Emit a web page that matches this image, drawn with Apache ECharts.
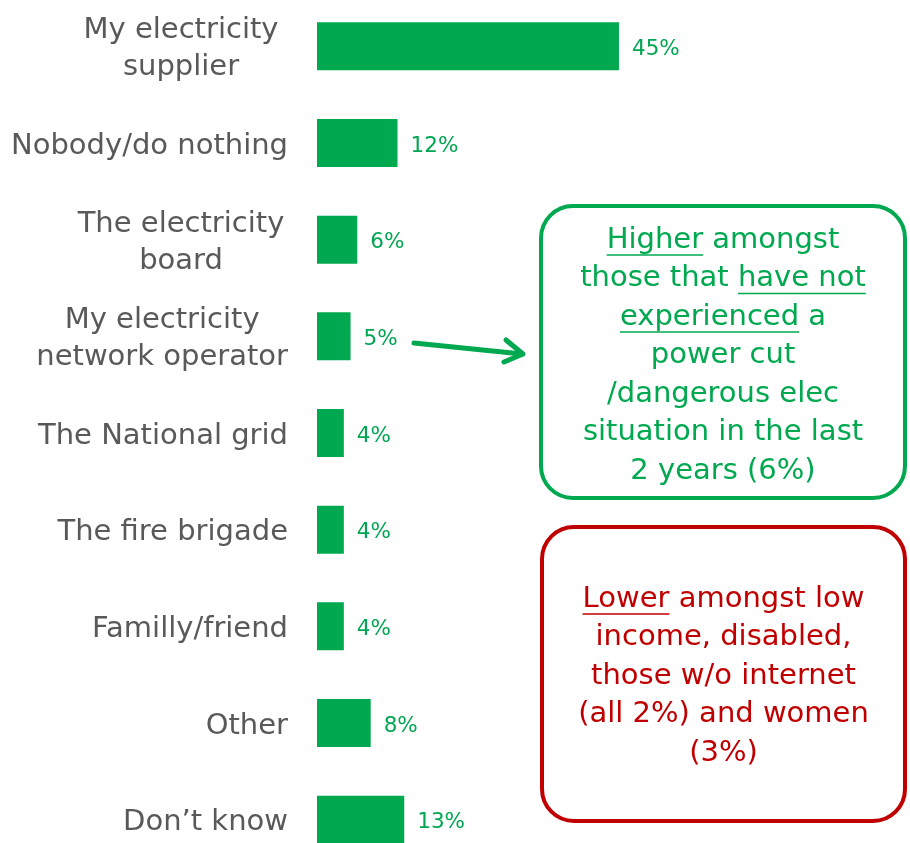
<!DOCTYPE html>
<html>
<head>
<meta charset="utf-8">
<script src="https://cdn.jsdelivr.net/npm/echarts@6/dist/echarts.min.js"></script>
<style>
  html, body { margin: 0; padding: 0; background: #fff; }
  #chart { width: 910px; height: 843px; }
</style>
</head>
<body>
<div id="chart"></div>
<script>
// 数据
var categories = [
  'My electricity\nsupplier',
  'Nobody/do nothing',
  'The electricity\nboard',
  'My electricity\nnetwork operator',
  'The National grid',
  'The fire brigade',
  'Familly/friend',
  'Other',
  'Don\u2019t know'
]
var values = [45, 12, 6, 5, 4, 4, 4, 8, 13]

var FONT = '"DejaVu Sans", Tahoma, sans-serif'
var GREEN = '#00A84F'
var GREEN_TXT = '#00A651'
var RED = '#C00000'

var greenLines = [
  'Higher amongst',
  'those that have not',
  'experienced a',
  'power cut',
  '/dangerous elec',
  'situation in the last',
  '2 years (6%)'
]
// [行号, 前缀, 下划线文字]
var greenUnderline = [[0, '', 'Higher'], [1, 'those that ', 'have not'], [2, '', 'experienced']]
var redLines = [
  'Lower amongst low',
  'income, disabled,',
  'those w/o internet',
  '(all 2%) and women',
  '(3%)'
]
var redUnderline = [[0, '', 'Lower']]

var myChart = echarts.init(document.getElementById('chart'))

var ctx = document.createElement('canvas').getContext('2d')
function textW (s, size) {
  ctx.font = size + 'px ' + FONT
  return ctx.measureText(s).width
}

function noteBox (x, y, w, h, color, lines, lineTop, lineH, unders) {
  var size = 29
  var cx = x + w / 2
  var els = [{
    type: 'rect',
    shape: { x: x, y: y, width: w, height: h, r: 32 },
    style: { fill: '#fff', stroke: color, lineWidth: 4 }
  }]
  lines.forEach(function (t, i) {
    els.push({
      type: 'text',
      x: cx,
      y: lineTop + i * lineH,
      style: {
        text: t, fill: color, font: size + 'px ' + FONT,
        align: 'center', verticalAlign: 'middle'
      }
    })
  })
  unders.forEach(function (u) {
    var full = textW(lines[u[0]], size)
    var x0 = cx - full / 2 + textW(u[1], size)
    var x1 = x0 + textW(u[2], size)
    var yy = lineTop + u[0] * lineH + 15
    els.push({
      type: 'line',
      shape: { x1: x0, y1: yy, x2: x1, y2: yy },
      style: { stroke: color, lineWidth: 1.5 }
    })
  })
  return els
}

var graphics = []
  .concat(noteBox(541, 206, 364, 292, GREEN, greenLines, 240, 38.5, greenUnderline))
  .concat(noteBox(542, 527, 363, 294, RED, redLines, 599, 38.5, redUnderline))
graphics.push({
  type: 'polyline',
  shape: { points: [[414, 343], [522, 354]] },
  style: { stroke: GREEN, lineWidth: 5, lineCap: 'round' }
})
graphics.push({
  type: 'polyline',
  shape: { points: [[506, 340], [523, 354], [504, 362]] },
  style: { stroke: GREEN, lineWidth: 5, fill: null, lineCap: 'round', lineJoin: 'round' }
})

var option = {
  backgroundColor: '#fff',
  animation: false,
  grid: { left: 317, top: -2, width: 671, height: 870, outerBoundsMode: 'none', containLabel: false },
  xAxis: {
    type: 'value',
    min: 0,
    max: 100,
    show: false
  },
  yAxis: {
    type: 'category',
    inverse: true,
    data: categories,
    axisLine: { show: false },
    axisTick: { show: false },
    axisLabel: {
      margin: 29,
      color: '#595959',
      fontFamily: FONT,
      fontSize: 29,
      lineHeight: 37,
      align: 'right',
      padding: [6, 0, 0, 0],
      formatter: function (v) {
        if (v.indexOf('\n') < 0) return v
        var tag = v.indexOf('network') >= 0 ? 'c' : 'w'
        return v.split('\n').map(function (s) { return '{' + tag + '|' + s + '}' }).join('\n')
      },
      rich: {
        w: { width: 214, align: 'center', color: '#595959', fontFamily: FONT, fontSize: 29, lineHeight: 37 },
        c: { align: 'center', color: '#595959', fontFamily: FONT, fontSize: 29, lineHeight: 37 }
      }
    }
  },
  series: [{
    type: 'bar',
    data: values,
    barWidth: 48,
    itemStyle: { color: GREEN },
    label: {
      show: true,
      position: 'right',
      distance: 13,
      offset: [0, 3],
      formatter: '{c}%',
      color: GREEN_TXT,
      fontFamily: FONT,
      fontSize: 21.5
    }
  }],
  graphic: graphics
}
myChart.setOption(option, true)
</script>
</body>
</html>
